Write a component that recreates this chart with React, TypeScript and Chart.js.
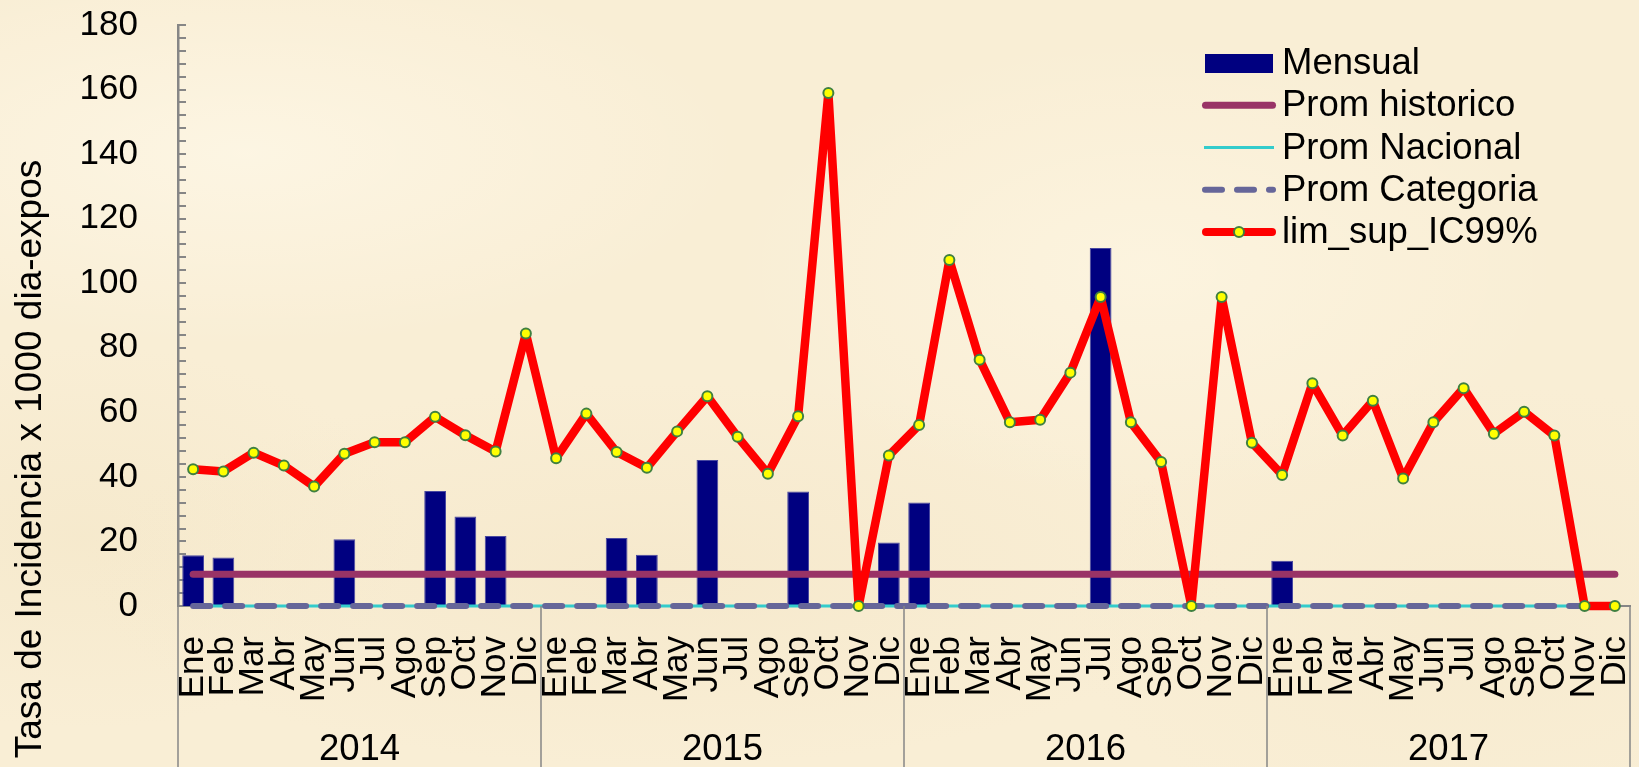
import React, { useEffect, useRef } from 'react';
import { Chart, registerables } from 'chart.js';

Chart.register(...registerables);

// ---------- data ----------
const MONTHS = ['Ene', 'Feb', 'Mar', 'Abr', 'May', 'Jun', 'Jul', 'Ago', 'Sep', 'Oct', 'Nov', 'Dic'];
const YEARS = ['2014', '2015', '2016', '2017'];

const MENSUAL_2014 = [15.7, 15.0, 0, 0, 0, 20.7, 0, 0, 35.6, 27.7, 21.7, 0];
const MENSUAL_2015 = [0, 0, 21.1, 15.9, 0, 45.2, 0, 0, 35.5, 0, 0, 19.7];
const MENSUAL_2016 = [32.1, 0, 0, 0, 0, 0, 110.9, 0, 0, 0, 0, 0];
const MENSUAL_2017 = [14.0, 0, 0, 0, 0, 0, 0, 0, 0, 0, 0, 0];

const LIM_SUP_2014 = [42.4, 41.7, 47.5, 43.5, 37.0, 47.2, 50.7, 50.7, 58.6, 52.9, 47.9, 84.4];
const LIM_SUP_2015 = [45.8, 59.6, 47.7, 42.8, 54.1, 65.0, 52.4, 41.0, 58.8, 158.9, 0, 46.6];
const LIM_SUP_2016 = [56.1, 107.2, 76.3, 56.9, 57.7, 72.3, 95.7, 56.9, 44.6, 0, 95.7, 50.6];
const LIM_SUP_2017 = [40.6, 69.0, 52.8, 63.6, 39.5, 56.9, 67.5, 53.4, 60.2, 52.8, 0, 0];

const PROM_HISTORICO = 9.8;
const PROM_NACIONAL = 0;
const PROM_CATEGORIA = 0;

const Y_MIN = 0;
const Y_MAX = 180;
const Y_STEP = 20;
const Y_MINOR_STEP = 4;

const Y_TITLE = 'Tasa de Incidencia x 1000 dia-expos';
const SERIES_NAMES = ['Mensual', 'Prom historico', 'Prom Nacional', 'Prom Categoria', 'lim_sup_IC99%'];

// ---------- derived ----------
const LABELS = YEARS.flatMap(() => MONTHS);
const MENSUAL = [...MENSUAL_2014, ...MENSUAL_2015, ...MENSUAL_2016, ...MENSUAL_2017];
const LIM_SUP = [...LIM_SUP_2014, ...LIM_SUP_2015, ...LIM_SUP_2016, ...LIM_SUP_2017];
const PROM_HIST_SERIES = LABELS.map(() => PROM_HISTORICO);
const PROM_NAC_SERIES = LABELS.map(() => PROM_NACIONAL);
const PROM_CAT_SERIES = LABELS.map(() => PROM_CATEGORIA);

const FONT = "'Liberation Sans', Arial, Helvetica, sans-serif";
const C_BAR = '#000080';
const C_BAR_EDGE = '#4848A0';
const C_HIST = '#993366';
const C_NAC = '#33CCCC';
const C_CAT = '#666699';
const C_LIM = '#FF0000';
const C_PT = '#FFFF00';
const C_PT_BORDER = '#3F8040';
const C_AXIS = '#868686';

const zeroPad = (s: any) => {
  s.paddingLeft = 0;
  s.paddingRight = 0;
  s.paddingTop = 0;
  s.paddingBottom = 0;
};

const decorPlugin = {
  id: 'decor',
  beforeDatasetsDraw(chart: any) {
    const { ctx, chartArea, scales } = chart;
    const y = scales.y;
    ctx.save();
    ctx.strokeStyle = C_AXIS;
    ctx.lineWidth = 2;
    for (let v = Y_MIN; v <= Y_MAX; v += Y_MINOR_STEP) {
      const py = Math.round(y.getPixelForValue(v));
      ctx.beginPath();
      ctx.moveTo(chartArea.left, py);
      ctx.lineTo(chartArea.left + 8, py);
      ctx.stroke();
    }
    ctx.restore();
  },
  afterDraw(chart: any) {
    const { ctx, chartArea, scales } = chart;
    const x = scales.x;
    ctx.save();
    // year separators
    const half = (x.getPixelForValue(1) - x.getPixelForValue(0)) / 2;
    ctx.strokeStyle = C_AXIS;
    ctx.lineWidth = 1.5;
    const n = MONTHS.length;
    for (let k = 0; k <= YEARS.length; k++) {
      const px = k < YEARS.length
        ? x.getPixelForValue(k * n) - half
        : x.getPixelForValue(k * n - 1) + half;
      ctx.beginPath();
      ctx.moveTo(px, chartArea.bottom);
      ctx.lineTo(px, chart.height);
      ctx.stroke();
    }

    // y title
    ctx.save();
    ctx.translate(31, 459);
    ctx.rotate(-Math.PI / 2);
    ctx.font = `37px ${FONT}`;
    ctx.fillStyle = '#000';
    ctx.textAlign = 'center';
    ctx.textBaseline = 'middle';
    ctx.fillText(Y_TITLE, 0, 0);
    ctx.restore();

    // legend
    const lx = chartArea.right - 425;
    const rows = SERIES_NAMES.map((_, i) => chartArea.top + 38 + i * 42.25);
    const x0 = lx - 3;
    const x1 = lx + 71;
    // Mensual
    ctx.fillStyle = C_BAR;
    ctx.fillRect(lx, rows[0] - 9, 68, 19);
    // Prom historico
    ctx.lineCap = 'round';
    ctx.strokeStyle = C_HIST;
    ctx.lineWidth = 7;
    ctx.beginPath(); ctx.moveTo(x0 + 3.5, rows[1]); ctx.lineTo(x1 - 3.5, rows[1]); ctx.stroke();
    // Prom Nacional
    ctx.lineCap = 'butt';
    ctx.strokeStyle = C_NAC;
    ctx.lineWidth = 3;
    ctx.beginPath(); ctx.moveTo(x0 + 2, rows[2]); ctx.lineTo(x1 - 2, rows[2]); ctx.stroke();
    // Prom Categoria
    ctx.lineCap = 'round';
    ctx.strokeStyle = C_CAT;
    ctx.lineWidth = 6;
    ctx.setLineDash([17, 15]);
    ctx.beginPath(); ctx.moveTo(x0 + 3, rows[3]); ctx.lineTo(x1 - 3, rows[3]); ctx.stroke();
    ctx.setLineDash([]);
    // lim sup
    ctx.strokeStyle = C_LIM;
    ctx.lineWidth = 8;
    ctx.beginPath(); ctx.moveTo(x0 + 4, rows[4]); ctx.lineTo(x1 - 4, rows[4]); ctx.stroke();
    ctx.beginPath();
    ctx.arc((x0 + x1) / 2, rows[4], 5, 0, Math.PI * 2);
    ctx.fillStyle = C_PT;
    ctx.fill();
    ctx.lineWidth = 2;
    ctx.strokeStyle = C_PT_BORDER;
    ctx.stroke();
    // legend texts
    ctx.fillStyle = '#000';
    ctx.font = `36.5px ${FONT}`;
    ctx.textAlign = 'left';
    ctx.textBaseline = 'middle';
    SERIES_NAMES.forEach((name, i) => ctx.fillText(name, lx + 77, rows[i] + 1));
    ctx.restore();
  },
};

export default function App() {
  const ref = useRef<HTMLCanvasElement | null>(null);

  useEffect(() => {
    const canvas = ref.current;
    if (!canvas) return;
    Chart.defaults.font.family = FONT;
    const chart = new Chart(canvas, {
      data: {
        labels: LABELS,
        datasets: [
          {
            type: 'bar',
            label: SERIES_NAMES[0],
            data: MENSUAL,
            backgroundColor: C_BAR,
            borderColor: C_BAR_EDGE,
            borderWidth: (c: any) => (c.raw ? 1 : 0),
            barPercentage: 0.72,
            categoryPercentage: 1,
            order: 5,
          },
          {
            type: 'line',
            label: SERIES_NAMES[1],
            data: PROM_HIST_SERIES,
            borderColor: C_HIST,
            borderWidth: 7,
            borderCapStyle: 'round',
            pointRadius: 0,
            order: 4,
            clip: false,
          },
          {
            type: 'line',
            label: SERIES_NAMES[2],
            data: PROM_NAC_SERIES,
            borderColor: C_NAC,
            borderWidth: 3,
            pointRadius: 0,
            order: 3,
            clip: false,
          },
          {
            type: 'line',
            label: SERIES_NAMES[3],
            data: PROM_CAT_SERIES,
            borderColor: C_CAT,
            borderWidth: 6,
            borderDash: [17, 15],
            borderCapStyle: 'round',
            pointRadius: 0,
            order: 2,
            clip: false,
          },
          {
            type: 'line',
            label: SERIES_NAMES[4],
            data: LIM_SUP,
            borderColor: C_LIM,
            borderWidth: 8.5,
            borderJoinStyle: 'round',
            tension: 0,
            pointRadius: 5,
            pointBorderWidth: 2,
            pointBackgroundColor: C_PT,
            pointBorderColor: C_PT_BORDER,
            order: 1,
            clip: false,
          },
        ],
      } as any,
      options: {
        animation: false,
        responsive: false,
        devicePixelRatio: 1,
        events: [],
        layout: { padding: { top: 25, right: 9, left: 0, bottom: 0 }, autoPadding: false },
        plugins: { legend: { display: false }, tooltip: { enabled: false } },
        scales: {
          x: {
            type: 'category',
            offset: true,
            weight: 0,
            grid: { display: false },
            border: { display: true, color: C_AXIS, width: 2 },
            ticks: {
              autoSkip: false,
              minRotation: 90,
              maxRotation: 90,
              padding: 22,
              color: '#000',
              font: { size: 35, family: FONT },
            },
            afterFit: (s: any) => { s.height = 105; zeroPad(s); },
          },
          x2: {
            type: 'category',
            labels: YEARS,
            offset: true,
            position: 'bottom',
            weight: 1,
            grid: { display: false },
            border: { display: false },
            ticks: {
              autoSkip: false,
              maxRotation: 0,
              minRotation: 0,
              padding: 9,
              color: '#000',
              font: { size: 36.5, family: FONT },
            },
            afterFit: (s: any) => { s.height = 56; zeroPad(s); },
          },
          y: {
            type: 'linear',
            min: Y_MIN,
            max: Y_MAX,
            grid: { display: false },
            border: { display: true, color: C_AXIS, width: 2.5 },
            ticks: {
              stepSize: Y_STEP,
              padding: 32,
              color: '#000',
              font: { size: 35, family: FONT },
            },
            afterFit: (s: any) => { s.width = 178; zeroPad(s); },
          },
        },
      } as any,
      plugins: [decorPlugin],
    });
    return () => chart.destroy();
  }, []);

  const bg = [
    'radial-gradient(ellipse 30% 25% at 15% 20%, rgba(255,250,236,0.6), rgba(255,250,236,0) 100%)',
    'radial-gradient(ellipse 25% 30% at 70% 35%, rgba(255,249,232,0.5), rgba(255,249,232,0) 100%)',
    'radial-gradient(ellipse 35% 25% at 40% 75%, rgba(243,228,196,0.5), rgba(243,228,196,0) 100%)',
    'radial-gradient(ellipse 25% 30% at 90% 80%, rgba(244,231,200,0.45), rgba(244,231,200,0) 100%)',
    'radial-gradient(ellipse 20% 25% at 5% 70%, rgba(242,228,195,0.45), rgba(242,228,195,0) 100%)',
    '#F9EED5',
  ].join(', ');

  return (
    <div style={{ position: 'fixed', left: 0, top: 0, width: 1639, height: 767, background: bg }}>
      <canvas ref={ref} width={1639} height={767} style={{ display: 'block', width: 1639, height: 767 }} />
    </div>
  );
}
